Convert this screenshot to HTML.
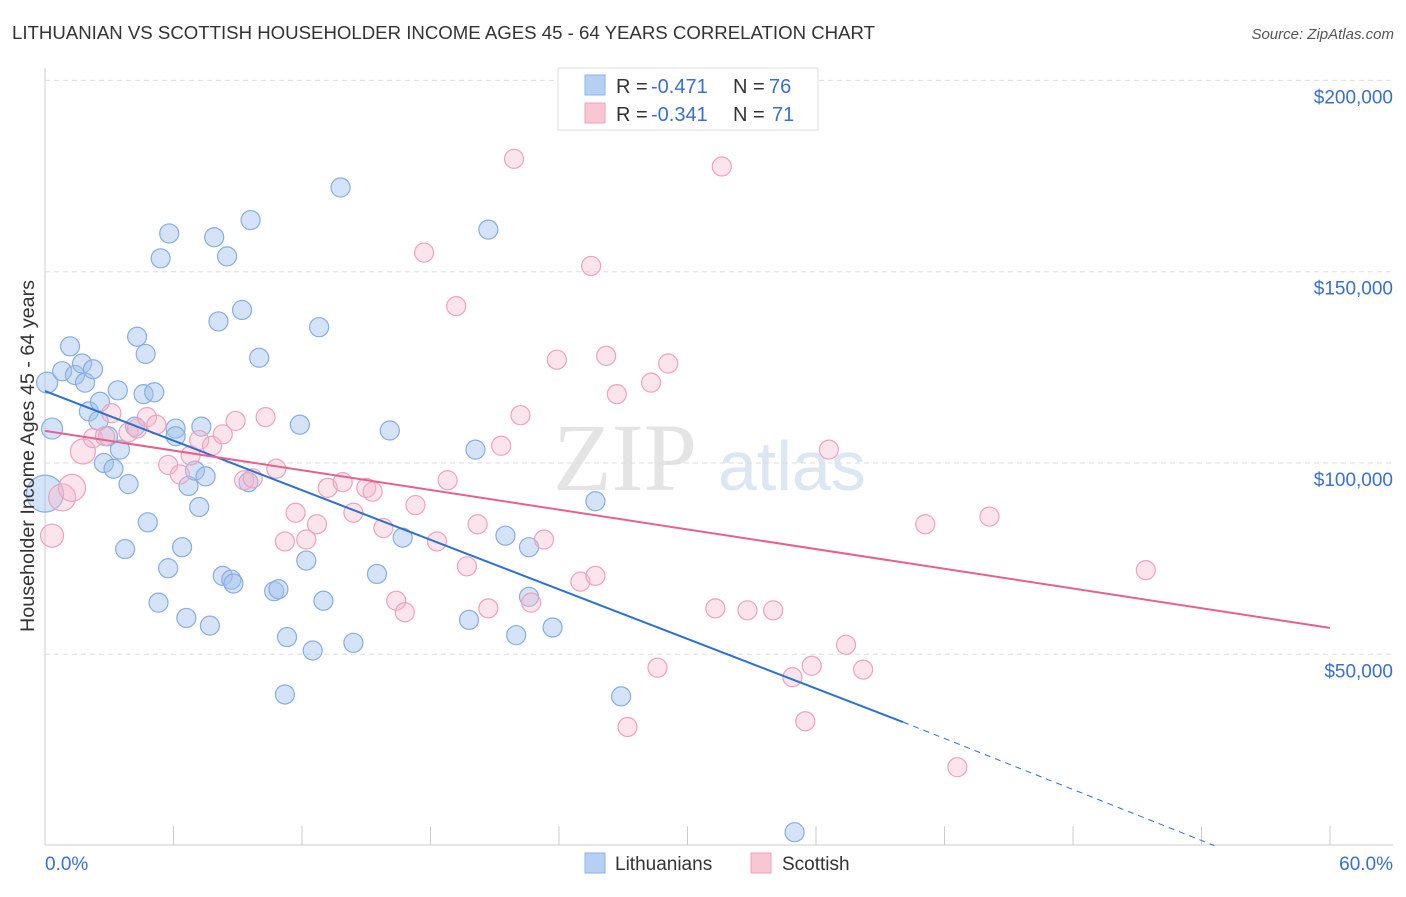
<!DOCTYPE html>
<html><head><meta charset="utf-8"><style>
body{margin:0;background:#fff;font-family:"Liberation Sans",sans-serif;}
svg text{font-family:"Liberation Sans",sans-serif;}
</style></head><body>
<svg id="chart" width="1406" height="892" xmlns="http://www.w3.org/2000/svg">
<text x="12" y="39" font-size="18" fill="#333" textLength="863" lengthAdjust="spacingAndGlyphs">LITHUANIAN VS SCOTTISH HOUSEHOLDER INCOME AGES 45 - 64 YEARS CORRELATION CHART</text>
<text x="1394" y="39" font-size="15" fill="#555" font-style="italic" text-anchor="end">Source: ZipAtlas.com</text>
<g>
<text x="553" y="490" font-size="96" fill="#e4e4e4" style="font-family:'Liberation Serif',serif">ZIP</text>
<text x="718" y="490" font-size="70" fill="#dde6f3">atlas</text>
</g>
<g id="grid"></g>
<g id="axes"></g>
<g id="pts"></g>
<g id="lines"></g>
<text transform="translate(34,456) rotate(-90)" font-size="19" fill="#333" text-anchor="middle" textLength="352" lengthAdjust="spacingAndGlyphs">Householder Income Ages 45 - 64 years</text>
<text x="45" y="870" font-size="19" fill="#3a6fd0">0.0%</text>
<text x="1393" y="870" font-size="19" fill="#3a6fd0" text-anchor="end">60.0%</text>
<g>
<rect x="558" y="68" width="260" height="62" fill="#fff" stroke="#ddd"/>
<rect x="585" y="75" width="20" height="20" fill="#b6d0f4" stroke="#8fb3e6"/>
<rect x="585" y="103" width="20" height="20" fill="#f9c6d4" stroke="#f0a0b8"/>
<text x="616" y="93" font-size="20" fill="#333">R = </text><text x="651" y="93" font-size="20" fill="#3a6fd0">-0.471</text>
<text x="733" y="93" font-size="20" fill="#333">N = </text><text x="769" y="93" font-size="20" fill="#3a6fd0">76</text>
<text x="616" y="121" font-size="20" fill="#333">R = </text><text x="651" y="121" font-size="20" fill="#3a6fd0">-0.341</text>
<text x="733" y="121" font-size="20" fill="#333">N = </text><text x="772" y="121" font-size="20" fill="#3a6fd0">71</text>
</g>
<g>
<rect x="585" y="853" width="20" height="20" fill="#b6d0f4" stroke="#8fb3e6"/>
<text x="615" y="870" font-size="19" fill="#333">Lithuanians</text>
<rect x="751" y="853" width="20" height="20" fill="#f9c6d4" stroke="#f0a0b8"/>
<text x="782" y="870" font-size="19" fill="#333">Scottish</text>
</g>
</svg>
<script>
const yTicks=[50000,100000,150000,200000];
const yTickLabels=["$50,000","$100,000","$150,000","$200,000"];
const xTicks=[0,6,12,18,24,30,36,42,48,54,60];
const blueX=[0.33,0.1,0,0.8,1.17,1.4,1.73,1.87,2.24,2.05,2.5,2.57,2.94,2.75,3.2,3.5,3.4,3.9,3.74,4.3,4.6,4.7,5.1,4.8,4.2,5.4,5.8,5.75,5.3,6.1,6.1,6.4,6.6,6.7,7.0,7.2,7.5,7.3,7.7,7.9,8.1,8.3,8.5,8.7,8.8,9.2,9.5,9.6,10,10.7,10.9,11.3,11.2,11.9,12.2,12.5,12.8,13,13.8,14.4,15.5,16.1,16.7,19.8,20.1,20.7,21.5,22,22.6,22.6,23.7,25.7,26.9,35];
const blueY=[109,121,92,124,130.5,123,126,121,124.5,113.5,111,116,107,100,98.5,103.5,119,94.5,77.5,133,118,128.5,118.5,84.5,109.5,153.5,160,72.5,63.5,109,107,78,59.5,94,98,88.5,96.5,109.5,57.5,159,137,70.5,154,69.5,68.5,140,95,163.5,127.5,66.5,67,54.5,39.5,110,74.5,51,135.5,64,172,53,71,108.5,80.5,59,103.5,161,81,55,78,65,57,90,39,3.5];
const blueR=[10,10,18,9,9,9,9,9,9,9,9,9,9,9,9,9,9,9,9,9,9,9,9,9,9,9,9,9,9,9,9,9,9,9,9,9,9,9,9,9,9,9,9,9,9,9,9,9,9,9,9,9,9,9,9,9,9,9,9,9,9,9,9,9,9,9,9,9,9,9,9,9,9,9];
const pinkX=[0.33,0.8,1.26,1.77,2.24,2.8,3.1,3.9,4.3,4.76,5.2,5.75,6.3,6.8,7.2,7.8,8.3,8.9,9.3,9.7,10.3,10.8,11.2,11.7,12.2,12.7,13.2,13.9,14.4,15,15.3,15.8,16.4,16.8,17.3,17.7,18.3,18.8,19.2,19.7,20.2,20.7,21.3,21.9,22.2,22.7,23.3,23.9,25,25.5,25.7,26.2,26.7,27.2,28.3,28.6,29.1,31.3,31.6,32.8,34,34.9,35.5,35.8,36.6,37.4,38.2,41.1,42.6,44.1,51.4];
const pinkY=[81,91,93.5,103,106.5,107,113,108,109,112,110,99.5,97,102,106,104.5,107.5,111,95.5,96,112,98.5,79.5,87,80,84,93.5,95,87,93.5,92.5,83,64,61,89,155,79.5,95.5,141,73,84,62,104.5,179.5,112.5,63.5,80,127,69,151.5,70.5,128,118,31,121,46.5,126,62,177.5,61.5,61.5,44,32.5,47,103.5,52.5,46,84,20.5,86,72];
const pinkR=[11,13,13,12,9,9,9,9,9,9,9,9,9,9,9,9,9,9,9,9,9,9,9,9,9,9,9,9,9,9,9,9,9,9,9,9,9,9,9,9,9,9,9,9,9,9,9,9,9,9,9,9,9,9,9,9,9,9,9,9,9,9,9,9,9,9,9,9,9,9,9];
const blueTrend=[[0,118.8],[40.06,32.3],[54.6,0]];
const pinkTrend=[[0,108.4],[60,56.9]];
const NS="http://www.w3.org/2000/svg";
const X=v=>45+v/60*1285;
const Y=v=>845.6-v/50000*191.3;
const Yk=v=>Y(v*1000);
function mk(t,a,p){const e=document.createElementNS(NS,t);for(const k in a)e.setAttribute(k,a[k]);document.getElementById(p).appendChild(e);return e;}
yTicks.forEach((t,i)=>{
 const l=mk('line',{x1:45,x2:1393,y1:Y(t),y2:Y(t),stroke:'#ddd','stroke-dasharray':'5,4'},'grid');
 
 
 const tx=mk('text',{x:1393,y:Y(t)+23,'font-size':19,fill:'#3a6fd0','text-anchor':'end'},'grid');
 tx.textContent=yTickLabels[i];
 
 
});
const ax=mk('line',{x1:45,x2:45,y1:68,y2:845,stroke:'#ccc'},'axes');


const bx=mk('line',{x1:45,x2:1393,y1:845,y2:845,stroke:'#ccc'},'axes');


xTicks.forEach(t=>{
 const l=mk('line',{x1:X(t),x2:X(t),y1:826,y2:845,stroke:'#ccc'},'axes');
 
 
});
blueX.forEach((v,i)=>{
 const c=mk('circle',{cx:X(v),cy:Yk(blueY[i]),r:blueR[i]+0.5,fill:'rgba(160,192,238,0.45)',stroke:'#88ade4','stroke-width':1.2},'pts');
 
 
});
pinkX.forEach((v,i)=>{
 const c=mk('circle',{cx:X(v),cy:Yk(pinkY[i]),r:pinkR[i]+0.5,fill:'rgba(248,184,204,0.38)',stroke:'#f0a2ba','stroke-width':1.2},'pts');
 
 
});
const b1=mk('line',{x1:X(blueTrend[0][0]),y1:Yk(blueTrend[0][1]),x2:X(blueTrend[1][0]),y2:Yk(blueTrend[1][1]),stroke:'#2b6fd6','stroke-width':2},'lines');


const b2=mk('line',{x1:X(blueTrend[1][0]),y1:Yk(blueTrend[1][1]),x2:X(blueTrend[2][0]),y2:Yk(blueTrend[2][1]),stroke:'#2b6fd6','stroke-width':1,'stroke-dasharray':'6,5'},'lines');


const p1=mk('line',{x1:X(pinkTrend[0][0]),y1:Yk(pinkTrend[0][1]),x2:X(pinkTrend[1][0]),y2:Yk(pinkTrend[1][1]),stroke:'#e8608e','stroke-width':2},'lines');


</script>
</body></html>
